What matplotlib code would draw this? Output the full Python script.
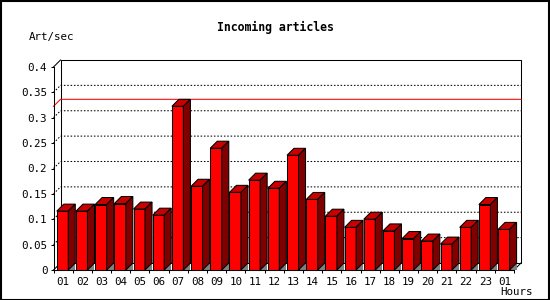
import numpy as np
import matplotlib
matplotlib.use("Agg")
import matplotlib.pyplot as plt
from matplotlib.patches import Polygon, Rectangle

plt.rcParams['font.family'] = ['DejaVu Sans Mono']
plt.rcParams['lines.scale_dashes'] = False

hours = ["01", "02", "03", "04", "05", "06", "07", "08", "09", "10", "11", "12",
         "13", "14", "15", "16", "17", "18", "19", "20", "21", "22", "23", "01"]
art_sec = [0.116, 0.116, 0.129, 0.131, 0.120, 0.108, 0.3225, 0.165, 0.240, 0.153, 0.177, 0.161,
           0.226, 0.139, 0.106, 0.084, 0.100, 0.077, 0.062, 0.057, 0.051, 0.084, 0.129, 0.080]
y_ticks = [0, 0.05, 0.1, 0.15, 0.2, 0.25, 0.3, 0.35, 0.4]
y_labels = ["0", "0.05", "0.1", "0.15", "0.2", "0.25", "0.3", "0.35", "0.4"]

W, H = 550, 300
fig = plt.figure(figsize=(W / 100, H / 100), dpi=100)
fig.patch.set_facecolor('white')

# front plane of the plot box, in pixels
left_px, right_px, top_px, bot_px = 53.5, 514, 67, 270
ax = fig.add_axes([left_px / W, 1 - bot_px / H, (right_px - left_px) / W, (bot_px - top_px) / H])
n = len(art_sec)
ax.set_xlim(0, n)
ax.set_ylim(0, 0.4)
ax.set_facecolor('none')

# depth of the 3d effect (7 px) in data units
depth = 7
dx = depth / ((right_px - left_px) / n)
dy = depth / ((bot_px - top_px) / 0.4)

lw = 0.75
ymax = 0.4

# back plane and walls
ax.plot([dx, n + dx, n + dx, dx, dx], [dy, dy, ymax + dy, ymax + dy, dy], color='black', lw=lw, clip_on=False, zorder=1)
ax.plot([0, dx], [ymax, ymax + dy], color='black', lw=lw, clip_on=False, zorder=1)
ax.plot([0, dx], [0, dy], color='black', lw=lw, clip_on=False, zorder=1)
ax.plot([n, n + dx], [0, dy], color='black', lw=lw, clip_on=False, zorder=1)

for v in y_ticks[1:-1]:
    ax.plot([0, dx, n + dx], [v, v + dy, v + dy], color='black', lw=lw,
            dashes=(1.1, 1.3), clip_on=False, zorder=1)

# line at the maximum value
vmax = max(art_sec)
ax.plot([0, dx, n + dx], [vmax, vmax + dy, vmax + dy], color='red', lw=lw, clip_on=False, zorder=1.5)

# bars
off, bw = 0.17, 0.6
lefts = np.arange(n) + off
ax.bar(lefts, art_sec, width=bw, align='edge', color='#ff0000', edgecolor='black', lw=lw, zorder=3, clip_on=False)
for l, v in zip(lefts, art_sec):
    r = l + bw
    ax.add_patch(Polygon([(r, 0), (r + dx, 0), (r + dx, dy)], closed=True,
                         facecolor='#808080', edgecolor='none', zorder=2, clip_on=False))
    ax.add_patch(Polygon([(l, v), (r, v), (r + dx, v + dy), (l + dx, v + dy)], closed=True,
                         facecolor='#c80000', edgecolor='black', lw=lw, zorder=3, clip_on=False))
    ax.add_patch(Polygon([(r, 0), (r + dx, dy), (r + dx, v + dy), (r, v)], closed=True,
                         facecolor='#800000', edgecolor='black', lw=lw, zorder=3, clip_on=False))

# axes
for s in ['top', 'right']:
    ax.spines[s].set_visible(False)
for s in ['left', 'bottom']:
    ax.spines[s].set_linewidth(lw)
    ax.spines[s].set_zorder(4)

ax.set_yticks(y_ticks)
ax.set_yticklabels(y_labels)
ax.set_xticks(np.arange(n) + 0.5)
ax.set_xticklabels(hours)
ax.set_xticks(np.arange(n + 1), minor=True)
ax.tick_params(axis='x', which='major', length=0, pad=5, labelsize=7.8)
ax.tick_params(axis='x', which='minor', length=2.5, width=lw, direction='out')
ax.tick_params(axis='y', length=2.5, width=lw, direction='out', pad=2, labelsize=7.8)

fig.text(275 / W, 1 - 27 / H, "Incoming articles", ha='center', va='center',
         fontsize=8.3, fontweight='bold')
fig.text(29 / W, 1 - 37 / H, "Art/sec", ha='left', va='center', fontsize=7.8)
fig.text(533 / W, 1 - 292 / H, "Hours", ha='right', va='center', fontsize=7.8)

# outer frame
fig.patches.append(Rectangle((0.5 / W, 0.5 / H), 1 - 1.5 / W, 1 - 1.5 / H, transform=fig.transFigure,
                             fill=False, edgecolor='black', lw=1.5))

fig.savefig("out.png", dpi=100)
